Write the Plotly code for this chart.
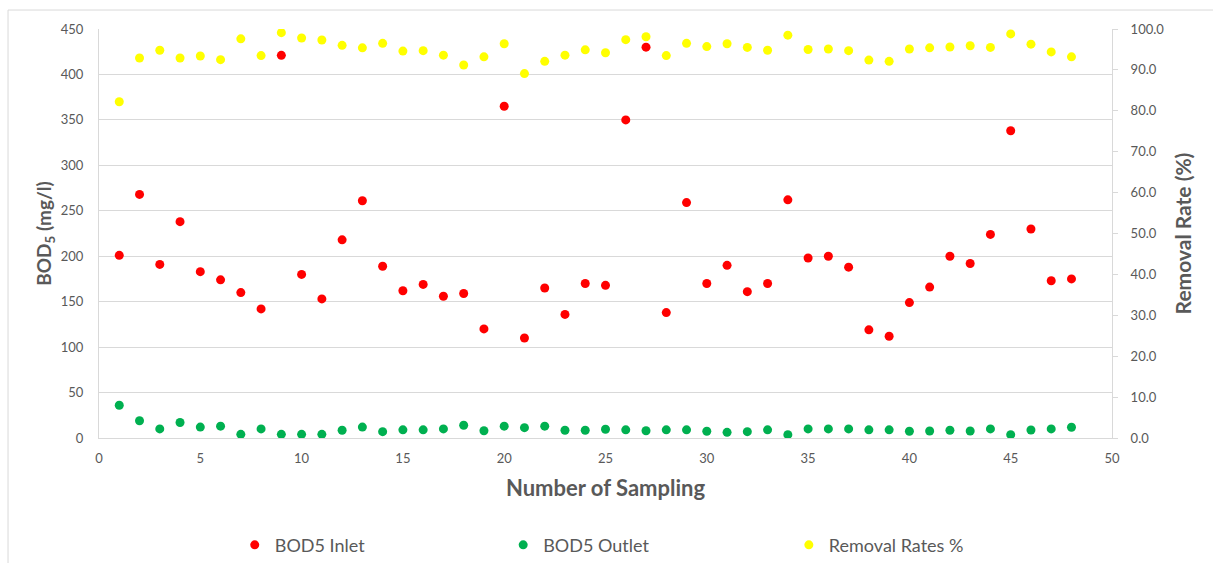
import plotly.graph_objects as go

sampling = list(range(1, 49))
bod5_inlet = [201, 268, 191, 238, 183, 174, 160, 142, 421, 180, 153, 218, 261, 189, 162, 169,
              156, 159, 120, 365, 110, 165, 136, 170, 168, 350, 430, 138, 259, 170, 190, 161,
              170, 262, 198, 200, 188, 119, 112, 149, 166, 200, 192, 224, 338, 230, 173, 175]
bod5_outlet = [36, 19, 10, 17, 12, 13, 4, 10, 4, 4, 4, 8.5, 12, 7, 9, 9,
               10, 14, 8, 13, 11.4, 13, 8.5, 8.5, 9.6, 9, 8, 9, 9, 7.4, 6.2, 7,
               9, 3.7, 10, 10, 10, 9, 9, 7.4, 7.7, 8.5, 7.7, 10, 3.7, 8.8, 10, 11.8]
removal_rate = [82.2, 92.9, 94.8, 92.9, 93.4, 92.5, 97.6, 93.5, 99.1, 97.8, 97.3, 96.0, 95.4, 96.5, 94.6, 94.7,
                93.6, 91.2, 93.2, 96.4, 89.1, 92.1, 93.6, 94.9, 94.2, 97.4, 98.1, 93.5, 96.5, 95.7, 96.4, 95.5,
                94.8, 98.5, 95.0, 95.1, 94.7, 92.4, 92.1, 95.1, 95.4, 95.6, 95.9, 95.5, 98.8, 96.3, 94.4, 93.2]

FONT = "Lato"
GREY = "#595959"
LINE = "#d9d9d9"

fig = go.Figure()
fig.add_trace(go.Scatter(x=sampling, y=bod5_inlet, mode="markers", name="BOD5 Inlet",
                         marker=dict(color="#FF0000", size=9), legend="legend"))
fig.add_trace(go.Scatter(x=sampling, y=bod5_outlet, mode="markers", name="BOD5 Outlet",
                         marker=dict(color="#00B050", size=9), legend="legend2"))
fig.add_trace(go.Scatter(x=sampling, y=removal_rate, mode="markers", name="Removal Rates %",
                         marker=dict(color="#FFFF00", size=9), yaxis="y2", legend="legend3"))

LEG_Y = -0.262
leg_common = dict(orientation="h", y=LEG_Y, yanchor="middle", xanchor="left",
                  font=dict(size=18, color=GREY, family=FONT), bgcolor="rgba(0,0,0,0)")

fig.update_layout(
    width=1213, height=563,
    margin=dict(l=99, r=101, t=29, b=125, autoexpand=False),
    paper_bgcolor="white", plot_bgcolor="white",
    font=dict(family=FONT, color=GREY, size=13),
    showlegend=True,
    legend=dict(x=0.134, **leg_common),
    legend2=dict(x=0.399, **leg_common),
    legend3=dict(x=0.681, **leg_common),
    xaxis=dict(range=[0, 50], dtick=5, showgrid=False, zeroline=False, automargin=False,
               showline=True, linecolor=LINE, linewidth=1, ticks="",
               tickfont=dict(size=13, color=GREY), ticklabelstandoff=8,
               title=dict(text="<b>Number of Sampling</b>", font=dict(size=22, color=GREY), standoff=16)),
    yaxis=dict(range=[0, 450], dtick=50, showgrid=True, gridcolor=LINE, gridwidth=1, automargin=False,
               zeroline=False, showline=True, linecolor=LINE, linewidth=1, ticks="",
               tickfont=dict(size=13, color=GREY), ticklabelstandoff=12,
               title=dict(text="<b>BOD<sub>5</sub> (mg/l)</b>", font=dict(size=19, color=GREY), standoff=4)),
    yaxis2=dict(range=[0, 100], dtick=10, overlaying="y", side="right", showgrid=False, automargin=False,
                zeroline=False, showline=True, linecolor=LINE, linewidth=1,
                ticks="outside", ticklen=5, tickcolor=LINE, tickformat=".1f",
                tickfont=dict(size=13, color=GREY), ticklabelstandoff=10,
                title=dict(text="<b>Removal Rate (%)</b>", font=dict(size=21, color=GREY), standoff=13)),
)

fig.add_shape(type="rect", xref="paper", yref="paper",
              x0=-0.0898, x1=1.2, y0=-0.5, y1=1.0464,
              line=dict(color=LINE, width=1), fillcolor="rgba(0,0,0,0)", layer="below")

fig.write_html("out.html", config={"displayModeBar": False},
               post_script="document.body.style.margin='0';document.body.style.overflow='hidden';")
